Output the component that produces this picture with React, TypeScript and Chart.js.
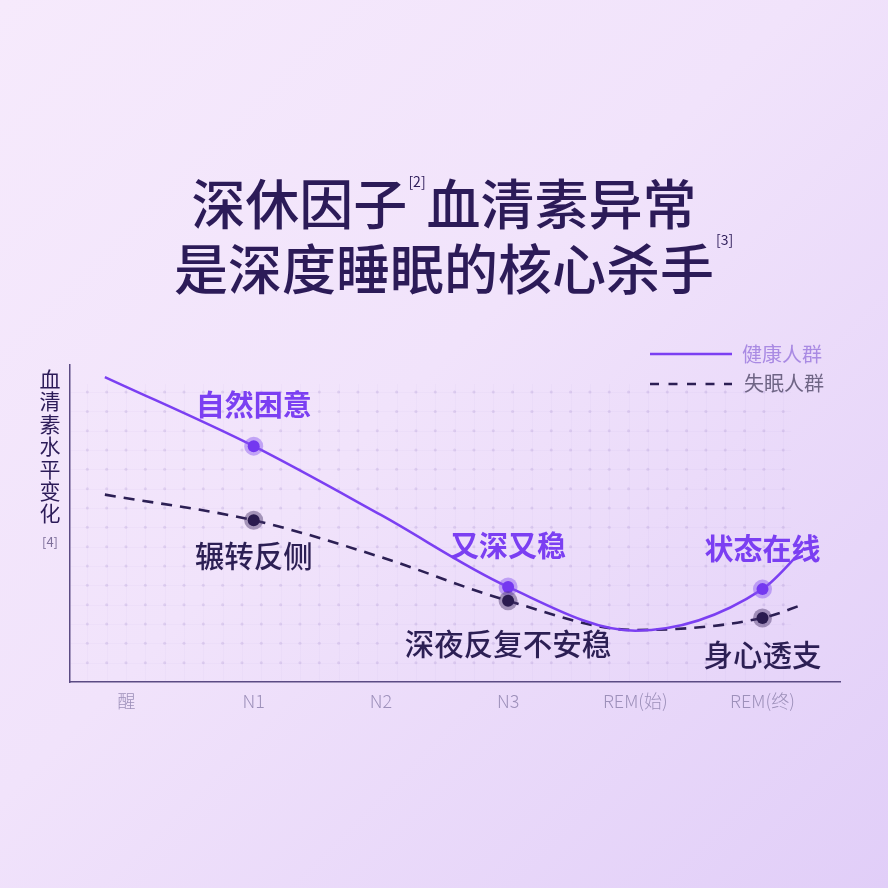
import React, { useEffect, useRef } from 'react';
import { Chart, registerables } from 'chart.js';

Chart.register(...registerables);

// ---- data ----
const stageLabels = ['醒', 'N1', 'N2', 'N3', 'REM(始)', 'REM(终)'];
const curveX = [-0.17, 1, 2, 3, 4, 5, 5.33];
const healthyValues = [96.2, 74.4, 52.7, 30.0, 16.2, 29.3, 42.3];
const insomniaValues = [59.1, 51.0, 39.4, 25.6, 16.4, 20.2, 24.6];
const markerIndex = [1, 3, 5];
const healthyNotes = ['自然困意', '又深又稳', '状态在线'];
const insomniaNotes = ['辗转反侧', '深夜反复不安稳', '身心透支'];
const seriesNames = ['健康人群', '失眠人群'];
const yAxisTitle = '血清素水平变化';
const yAxisRef = '[4]';
const titleLine1 = ['深休因子', '[2]', '血清素异常'];
const titleLine2 = ['是深度睡眠的核心杀手', '[3]'];

// ---- style ----
const FONT = '"Noto Sans CJK SC", "Noto Sans", sans-serif';
const PURPLE = '#7b3ff2';
const DARK = '#2c1f54';
const TITLE = '#2c1b58';
const healthyNoteOffset = [-41, -41, -40];
const insomniaNoteOffset = [35, 43, 37];

const toPoints = (vals: number[]) => vals.map((v, i) => ({ x: curveX[i], y: v }));
const toMarkers = (vals: number[]) => markerIndex.map((i) => ({ x: curveX[i], y: vals[i] }));

const decor = {
  id: 'decor',
  beforeDatasetsDraw(chart: any) {
    const { ctx, chartArea: a } = chart;
    const step = 19.33;
    const ox = a.left - 2;
    const oy = a.bottom;
    const cols = 37;
    const rows = 15;
    ctx.save();
    ctx.strokeStyle = 'rgba(140,100,200,0.035)';
    ctx.lineWidth = 1;
    for (let i = 1; i <= cols; i++) {
      const x = Math.round(ox + i * step) + 0.5;
      ctx.beginPath();
      ctx.moveTo(x, oy);
      ctx.lineTo(x, oy - rows * step - 8);
      ctx.stroke();
    }
    for (let j = 1; j <= rows; j++) {
      const y = Math.round(oy - j * step) + 0.5;
      ctx.beginPath();
      ctx.moveTo(a.left, y);
      ctx.lineTo(ox + cols * step + 8, y);
      ctx.stroke();
    }
    ctx.fillStyle = 'rgba(160,135,200,0.24)';
    for (let i = 1; i <= cols; i++) {
      for (let j = 1; j <= rows; j++) {
        ctx.beginPath();
        ctx.arc(ox + i * step, oy - j * step, 1.5, 0, Math.PI * 2);
        ctx.fill();
      }
    }
    ctx.restore();
  },
  afterDatasetsDraw(chart: any) {
    const { ctx } = chart;
    const xs = chart.scales.x;
    const ys = chart.scales.y;
    ctx.save();
    ctx.textAlign = 'center';
    ctx.textBaseline = 'middle';
    markerIndex.forEach((idx, k) => {
      const px = xs.getPixelForValue(curveX[idx]);
      ctx.font = `700 29px ${FONT}`;
      ctx.fillStyle = PURPLE;
      ctx.fillText(healthyNotes[k], px, ys.getPixelForValue(healthyValues[idx]) + healthyNoteOffset[k]);
      ctx.font = `500 29.5px ${FONT}`;
      ctx.fillStyle = DARK;
      ctx.fillText(insomniaNotes[k], px, ys.getPixelForValue(insomniaValues[idx]) + insomniaNoteOffset[k]);
    });
    // y axis title (vertical)
    ctx.font = `400 21px ${FONT}`;
    ctx.fillStyle = TITLE;
    Array.from(yAxisTitle).forEach((ch, i) => {
      ctx.fillText(ch, 50, 379 + i * 22.4);
    });
    ctx.font = `400 13px ${FONT}`;
    ctx.fillStyle = '#7d6f9a';
    ctx.fillText(yAxisRef, 50, 542);
    // legend
    ctx.lineWidth = 2.5;
    ctx.strokeStyle = PURPLE;
    ctx.beginPath();
    ctx.moveTo(650, 354);
    ctx.lineTo(732, 354);
    ctx.stroke();
    ctx.strokeStyle = DARK;
    ctx.setLineDash([9, 9.5]);
    ctx.beginPath();
    ctx.moveTo(650, 384);
    ctx.lineTo(732, 384);
    ctx.stroke();
    ctx.setLineDash([]);
    ctx.textAlign = 'left';
    ctx.font = `400 20px ${FONT}`;
    ctx.fillStyle = '#a98ae3';
    ctx.fillText(seriesNames[0], 742, 354);
    ctx.fillStyle = '#6f6585';
    ctx.fillText(seriesNames[1], 744, 383);
    ctx.restore();
  },
};

export default function App() {
  const ref = useRef<HTMLCanvasElement>(null);
  useEffect(() => {
    const chart = new Chart(ref.current as HTMLCanvasElement, {
      type: 'line',
      data: {
        datasets: [
          {
            label: seriesNames[1] + '-core',
            data: toMarkers(insomniaValues),
            showLine: false,
            pointRadius: 6,
            pointBackgroundColor: '#2a1b4f',
            pointBorderWidth: 0,
            order: 0,
          },
          {
            label: seriesNames[1] + '-halo',
            data: toMarkers(insomniaValues),
            showLine: false,
            pointRadius: 9.5,
            pointBackgroundColor: 'rgba(70,50,105,0.45)',
            pointBorderWidth: 0,
            order: 1,
          },
          {
            label: seriesNames[0] + '-core',
            data: toMarkers(healthyValues),
            showLine: false,
            pointRadius: 6,
            pointBackgroundColor: '#7438f0',
            pointBorderWidth: 0,
            order: 2,
          },
          {
            label: seriesNames[0] + '-halo',
            data: toMarkers(healthyValues),
            showLine: false,
            pointRadius: 9.5,
            pointBackgroundColor: 'rgba(135,85,240,0.45)',
            pointBorderWidth: 0,
            order: 3,
          },
          {
            label: seriesNames[0],
            data: toPoints(healthyValues),
            borderColor: PURPLE,
            borderWidth: 2.5,
            pointRadius: 0,
            cubicInterpolationMode: 'monotone',
            fill: false,
            order: 4,
          },
          {
            label: seriesNames[1],
            data: toPoints(insomniaValues),
            borderColor: DARK,
            borderWidth: 2.6,
            borderDash: [11, 8],
            pointRadius: 0,
            cubicInterpolationMode: 'monotone',
            fill: false,
            order: 5,
          },
        ],
      },
      options: {
        animation: false,
        responsive: false,
        devicePixelRatio: 1,
        layout: { padding: { left: 70, right: 48, top: 365, bottom: 0 } },
        plugins: { legend: { display: false }, tooltip: { enabled: false } },
        events: [],
        scales: {
          x: {
            type: 'linear',
            min: -0.4442,
            max: 5.6093,
            afterFit: (s: any) => {
              s.height = 206;
            },
            afterBuildTicks: (s: any) => {
              s.ticks = stageLabels.map((_, i) => ({ value: i }));
            },
            grid: { display: false },
            border: { display: true, color: '#5b4b83', width: 1.5 },
            ticks: {
              autoSkip: false,
              maxRotation: 0,
              padding: 0,
              color: '#9d90ba',
              font: { family: FONT, size: 18, weight: 300 as any },
              callback: (v: any) => stageLabels[Math.round(Number(v))] ?? '',
            },
          },
          y: {
            type: 'linear',
            min: 0,
            max: 100,
            afterFit: (s: any) => {
              s.width = 0;
            },
            grid: { display: false },
            border: { display: true, color: '#5b4b83', width: 1.5 },
            ticks: { display: false },
          },
        },
      },
      plugins: [decor],
    } as any);
    return () => chart.destroy();
  }, []);

  return (
    <div
      style={{
        position: 'fixed',
        left: 0,
        top: 0,
        width: 888,
        height: 888,
        overflow: 'hidden',
        background: 'linear-gradient(135deg, #f6eafc 0%, #f1e3fb 45%, #e1cef8 100%)',
        fontFamily: FONT,
      }}
    >
      <canvas ref={ref} width={888} height={888} style={{ position: 'absolute', left: 0, top: 0, width: 888, height: 888 }} />
      <div
        style={{
          position: 'absolute',
          left: 0,
          top: 169,
          width: 888,
          textAlign: 'center',
          fontSize: 54,
          fontWeight: 500,
          lineHeight: '65px',
          color: TITLE,
          whiteSpace: 'nowrap',
        }}
      >
        {titleLine1[0]}
        <span style={{ fontSize: 14, fontWeight: 400, verticalAlign: 'top', lineHeight: '14px', position: 'relative', top: 5, margin: '0 1px' }}>
          {titleLine1[1]}
        </span>
        {titleLine1[2]}
      </div>
      <div
        style={{
          position: 'absolute',
          left: 0,
          top: 234,
          width: 888,
          textAlign: 'center',
          fontSize: 54,
          fontWeight: 500,
          lineHeight: '65px',
          color: TITLE,
          whiteSpace: 'nowrap',
        }}
      >
        <span style={{ position: 'relative' }}>
          {titleLine2[0]}
          <span style={{ position: 'absolute', left: '100%', top: 5, marginLeft: 2, fontSize: 14, fontWeight: 400, lineHeight: '14px' }}>
            {titleLine2[1]}
          </span>
        </span>
      </div>
    </div>
  );
}
